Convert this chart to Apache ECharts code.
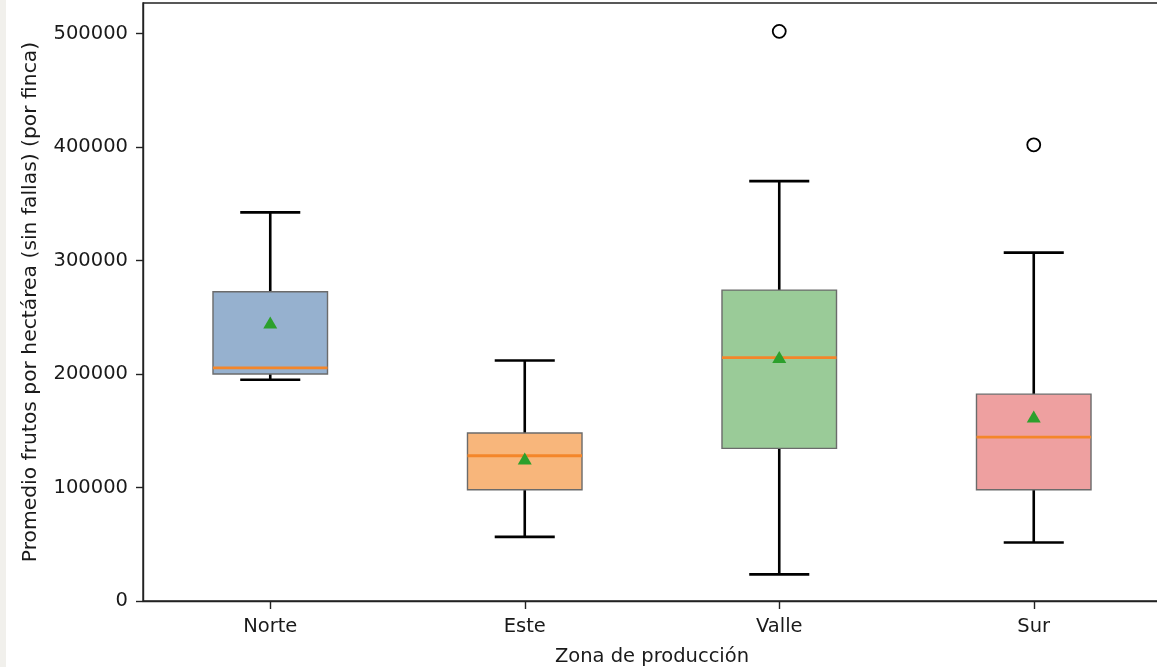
<!DOCTYPE html>
<html>
<head>
<meta charset="utf-8">
<script src="https://cdn.jsdelivr.net/npm/echarts@6/dist/echarts.min.js"></script>
<style>
  html, body { margin: 0; padding: 0; background: #ffffff; }
  #chart { position: absolute; left: 0; top: 0; width: 1157px; height: 667px; }
  #strip { position: absolute; left: 0; top: 0; width: 6px; height: 667px; background: #f1f0ec; z-index: 5; }
</style>
</head>
<body>
<div id="chart"></div>
<div id="strip"></div>
<script>
// ---- data ----
const categories = ['Norte', 'Este', 'Valle', 'Sur'];
const whiskerLow = [195000, 56500, 23500, 51500];
const q1 = [200000, 98000, 134500, 98000];
const medians = [205500, 128000, 214500, 144500];
const q3 = [272500, 148000, 274000, 182300];
const whiskerHigh = [342500, 212000, 370000, 307000];
const means = [245500, 125500, 215000, 162500];
const outliers = [[2, 502000], [3, 402000]];
const yTicks = [0, 100000, 200000, 300000, 400000, 500000];

// ---- styles ----
const boxFill = ['#96b1cf', '#f8b67b', '#9acb98', '#eea0a0'];
const fontFamily = 'DejaVu Sans';

const boxData = categories.map((c, i) => [i, whiskerLow[i], q1[i], medians[i], q3[i], whiskerHigh[i]]);
const meanData = categories.map((c, i) => [i, means[i]]);

const chart = echarts.init(document.getElementById('chart'));

function renderBox(params, api) {
  const idx = api.value(0);
  const band = api.size([1, 0])[0];
  const halfBox = band * 0.225;
  const halfCap = band * 0.118;
  const pLow = api.coord([idx, api.value(1)]);
  const pQ1 = api.coord([idx, api.value(2)]);
  const pMed = api.coord([idx, api.value(3)]);
  const pQ3 = api.coord([idx, api.value(4)]);
  const pHigh = api.coord([idx, api.value(5)]);
  const x = pMed[0];
  const blackLine = { stroke: '#000', lineWidth: 2.6 };
  return {
    type: 'group',
    children: [
      { type: 'line', shape: { x1: x, y1: pQ3[1], x2: x, y2: pHigh[1] }, style: blackLine },
      { type: 'line', shape: { x1: x, y1: pQ1[1], x2: x, y2: pLow[1] }, style: blackLine },
      { type: 'line', shape: { x1: x - halfCap, y1: pHigh[1], x2: x + halfCap, y2: pHigh[1] }, style: blackLine },
      { type: 'line', shape: { x1: x - halfCap, y1: pLow[1], x2: x + halfCap, y2: pLow[1] }, style: blackLine },
      { type: 'rect', shape: { x: x - halfBox, y: pQ3[1], width: halfBox * 2, height: pQ1[1] - pQ3[1] },
        style: { fill: boxFill[params.dataIndex], stroke: '#6b6b6b', lineWidth: 1.4 } },
      { type: 'line', shape: { x1: x - halfBox, y1: pMed[1], x2: x + halfBox, y2: pMed[1] },
        style: { stroke: '#f4862a', lineWidth: 2.8 } }
    ]
  };
}

const option = {
  backgroundColor: '#ffffff',
  animation: false,
  textStyle: { fontFamily: fontFamily },
  grid: {
    left: 143, top: 3, width: 1018, height: 598,
    outerBoundsMode: 'none',
    containLabel: false,
    show: true, borderColor: '#222', borderWidth: 1.4, backgroundColor: 'transparent'
  },
  xAxis: {
    type: 'category',
    data: categories,
    boundaryGap: true,
    name: 'Zona de producción',
    nameLocation: 'middle',
    nameGap: 46,
    nameTextStyle: { fontSize: 19.5, color: '#1a1a1a', fontFamily: fontFamily },
    axisLine: { show: true, lineStyle: { color: '#222', width: 1.4 } },
    axisTick: { show: true, alignWithLabel: true, length: 8, lineStyle: { color: '#222', width: 1.4 } },
    axisLabel: { fontSize: 19.5, color: '#1a1a1a', margin: 16, fontFamily: fontFamily },
    splitLine: { show: false }
  },
  yAxis: {
    type: 'value',
    min: 0,
    max: 527000,
    interval: 100000,
    name: 'Promedio frutos por hectárea (sin fallas) (por finca)',
    nameLocation: 'middle',
    nameGap: 102,
    nameRotate: 90,
    nameTextStyle: { fontSize: 20.3, color: '#1a1a1a', fontFamily: fontFamily },
    axisLine: { show: true, lineStyle: { color: '#222', width: 1.4 } },
    axisTick: { show: true, length: 7, customValues: yTicks, lineStyle: { color: '#222', width: 1.4 } },
    axisLabel: { fontSize: 19.5, color: '#1a1a1a', margin: 15, customValues: yTicks, fontFamily: fontFamily,
      formatter: (v) => String(v) },
    splitLine: { show: false }
  },
  series: [
    {
      type: 'custom',
      renderItem: renderBox,
      data: boxData,
      encode: { x: 0, y: [1, 2, 3, 4, 5] },
      z: 2
    },
    {
      type: 'scatter',
      data: meanData,
      symbol: 'triangle',
      symbolSize: [14, 12],
      itemStyle: { color: '#2ca02c', opacity: 1 },
      z: 5
    },
    {
      type: 'scatter',
      data: outliers,
      symbol: 'circle',
      symbolSize: 13,
      itemStyle: { color: '#ffffff', borderColor: '#000', borderWidth: 1.8, opacity: 1 },
      z: 5
    }
  ]
};

chart.setOption(option);
</script>
</body>
</html>
